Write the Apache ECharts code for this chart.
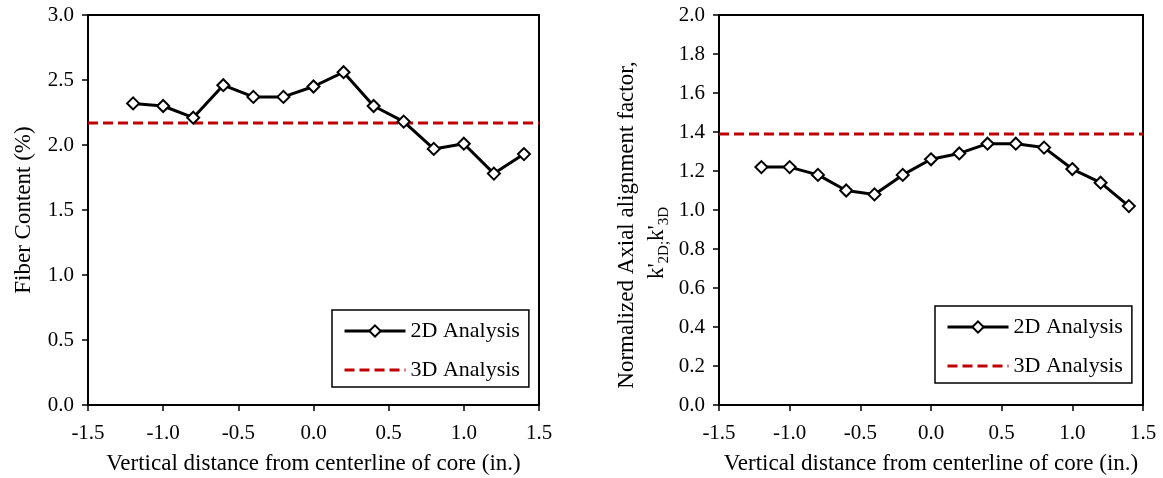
<!DOCTYPE html>
<html>
<head>
<meta charset="utf-8">
<script src="https://cdn.jsdelivr.net/npm/echarts@6/dist/echarts.min.js"></script>
<style>html,body{margin:0;padding:0;background:#fff;}#c{width:1163px;height:478px;}</style>
</head>
<body>
<div id="c"></div>
<script>
const positions = [-1.2,-1.0,-0.8,-0.6,-0.4,-0.2,0.0,0.2,0.4,0.6,0.8,1.0,1.2,1.4];
const fiber2D = [2.32,2.30,2.21,2.46,2.37,2.37,2.45,2.56,2.30,2.18,1.97,2.01,1.78,1.93];
const fiber3D = 2.17;
const align2D = [1.22,1.22,1.18,1.10,1.08,1.18,1.26,1.29,1.34,1.34,1.32,1.21,1.14,1.02];
const align3D = 1.39;
const xRange = [-1.5, 1.5];
const xName = 'Vertical distance from centerline of core (in.)';
const leftYName = 'Fiber Content (%)';
const rightYName = "{n|Normalized Axial alignment factor,}\n{n|k'}{s|2D;}{n|k'}{s|3D}{sp|}";
const legendNames = ['2D Analysis','3D Analysis'];

const FONT = '"Liberation Serif","Times New Roman",serif';
const chart = echarts.init(document.getElementById('c'));

function pairs(xs, ys){ return xs.map((x,i)=>[x, ys[i]]); }
function flat(v){ return xRange.map(x=>[x, v]); }

function xAxis(gi){
  return {
    type:'value', gridIndex:gi, min:-1.5, max:1.5, interval:0.5,
    name:xName, nameLocation:'middle', nameGap:47,
    nameTextStyle:{fontFamily:FONT, fontSize:23, color:'#000'},
    axisLine:{show:true, onZero:false, lineStyle:{color:'#000', width:2}},
    axisTick:{show:true, inside:false, length:6, lineStyle:{color:'#000', width:1.5}},
    axisLabel:{fontFamily:FONT, fontSize:21, color:'#000', margin:18, formatter:v=>v.toFixed(1)},
    splitLine:{show:false}
  };
}
function yAxis(gi, max, interval, name, gap, nameStyle){
  return {
    type:'value', gridIndex:gi, min:0, max:max, interval:interval,
    name:name, nameLocation:'middle', nameGap:gap, nameRotate:90,
    nameTextStyle:nameStyle,
    axisLine:{show:true, onZero:false, lineStyle:{color:'#000', width:2}},
    axisTick:{show:true, inside:false, length:6, lineStyle:{color:'#000', width:1.5}},
    axisLabel:{fontFamily:FONT, fontSize:21, color:'#000', margin:14, formatter:v=>v.toFixed(1)},
    splitLine:{show:false}
  };
}
function line2D(gi, data){
  return {
    name:legendNames[0], type:'line', xAxisIndex:gi, yAxisIndex:gi, data:data,
    symbol:'diamond', symbolSize:12, showAllSymbol:true,
    lineStyle:{color:'#000', width:3},
    itemStyle:{color:'#fff', borderColor:'#000', borderWidth:2},
    color:'#000', z:3, animation:false
  };
}
function line3D(gi, data){
  return {
    name:legendNames[1], type:'line', xAxisIndex:gi, yAxisIndex:gi, data:data,
    symbol:'none', lineStyle:{color:'#c00000', width:3, type:[10,5]},
    itemStyle:{color:'#c00000'}, color:'#c00000', z:2, animation:false
  };
}
function legend(left, top){
  return {
    data:[
      {name:legendNames[0]},
      {name:legendNames[1], itemStyle:{opacity:0}}
    ],
    orient:'vertical', left:left, top:top,
    itemWidth:61, itemHeight:14, itemGap:17,
    padding:[10,9,6,11], borderColor:'#000', borderWidth:1.5,
    lineStyle:{width:3},
    textStyle:{fontFamily:FONT, fontSize:22, color:'#000', lineHeight:22},
    selectedMode:false
  };
}

chart.setOption({
  animation:false,
  backgroundColor:'#fff',
  grid:[
    {left:88, right:624, top:15, bottom:73, show:true, borderColor:'#000', borderWidth:2, outerBoundsMode:'none', containLabel:false},
    {left:719, right:20, top:15, bottom:73, show:true, borderColor:'#000', borderWidth:2, outerBoundsMode:'none', containLabel:false}
  ],
  xAxis:[xAxis(0), xAxis(1)],
  yAxis:[
    yAxis(0, 3, 0.5, leftYName, 51, {fontFamily:FONT, fontSize:23, color:'#000', lineHeight:26}),
    yAxis(1, 2, 0.2, rightYName, 47, {fontFamily:FONT, fontSize:23, color:'#000', lineHeight:30, padding:[0,30,0,0],
      rich:{n:{fontFamily:FONT, fontSize:23, color:'#000', lineHeight:30},
            s:{fontFamily:FONT, fontSize:15, color:'#000', lineHeight:30, verticalAlign:'bottom', padding:[10,0,0,0]},
            sp:{width:36, lineHeight:30}}})
  ],
  legend:[legend(332, 310), legend(935, 306)],
  series:[
    line3D(0, flat(fiber3D)),
    line2D(0, pairs(positions, fiber2D)),
    line3D(1, flat(align3D)),
    line2D(1, pairs(positions, align2D))
  ]
});
</script>
</body>
</html>
